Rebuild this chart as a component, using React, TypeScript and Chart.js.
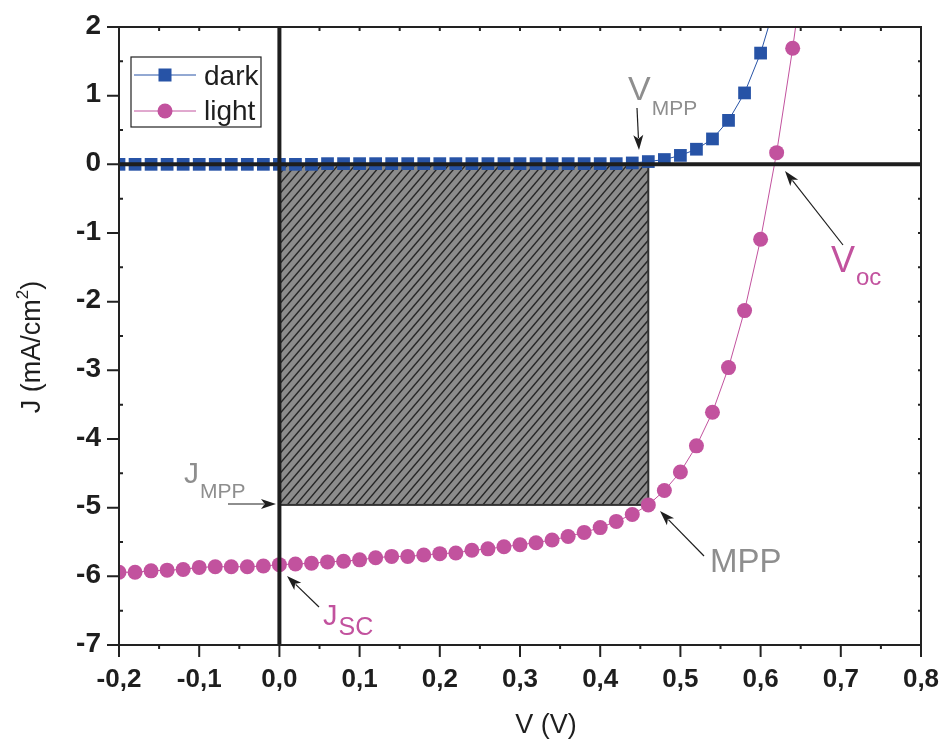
import React, { useEffect, useRef } from "react";
import { Chart, registerables } from "chart.js";

Chart.register(...registerables);

// ---------- data ----------
const darkV = [
  -0.2, -0.18, -0.16, -0.14, -0.12, -0.1, -0.08, -0.06, -0.04, -0.02,
  0.0, 0.02, 0.04, 0.06, 0.08, 0.1, 0.12, 0.14, 0.16, 0.18,
  0.2, 0.22, 0.24, 0.26, 0.28, 0.3, 0.32, 0.34, 0.36, 0.38,
  0.4, 0.42, 0.44, 0.46, 0.48, 0.5, 0.52, 0.54, 0.56, 0.58,
  0.6, 0.62,
];
const darkJ = [
  0.0, 0.0, 0.0, 0.0, 0.0, 0.0, 0.0, 0.0, 0.0, 0.0,
  0.0, 0.0, 0.0, 0.01, 0.01, 0.01, 0.01, 0.01, 0.01, 0.01,
  0.01, 0.01, 0.01, 0.01, 0.01, 0.01, 0.01, 0.01, 0.01, 0.01,
  0.01, 0.01, 0.02, 0.04, 0.07, 0.13, 0.22, 0.37, 0.64, 1.04,
  1.62, 2.4,
];
const lightV = [
  -0.2, -0.18, -0.16, -0.14, -0.12, -0.1, -0.08, -0.06, -0.04, -0.02,
  0.0, 0.02, 0.04, 0.06, 0.08, 0.1, 0.12, 0.14, 0.16, 0.18,
  0.2, 0.22, 0.24, 0.26, 0.28, 0.3, 0.32, 0.34, 0.36, 0.38,
  0.4, 0.42, 0.44, 0.46, 0.48, 0.5, 0.52, 0.54, 0.56, 0.58,
  0.6, 0.62, 0.64, 0.66,
];
const lightJ = [
  -5.94, -5.94, -5.92, -5.91, -5.9, -5.87, -5.86, -5.86, -5.86, -5.85,
  -5.83, -5.82, -5.81, -5.79, -5.78, -5.76, -5.73, -5.71, -5.71, -5.69,
  -5.67, -5.66, -5.62, -5.6, -5.57, -5.54, -5.51, -5.47, -5.42, -5.36,
  -5.29, -5.2, -5.1, -4.96, -4.75, -4.48, -4.1, -3.61, -2.96, -2.13,
  -1.09, 0.17, 1.69, 3.4,
];
const xTicks = [-0.2, -0.1, 0.0, 0.1, 0.2, 0.3, 0.4, 0.5, 0.6, 0.7, 0.8];
const xTickLabels = ["-0,2", "-0,1", "0,0", "0,1", "0,2", "0,3", "0,4", "0,5", "0,6", "0,7", "0,8"];
const yTicks = [2, 1, 0, -1, -2, -3, -4, -5, -6, -7];
const mppV = 0.46;
const mppJ = -4.96;

const BLUE = "#2753a6";
const MAGENTA = "#c2529e";
const GRAY = "#8e8e8e";
const INK = "#1e1e1e";

function arrow(ctx: CanvasRenderingContext2D, x1: number, y1: number, x2: number, y2: number) {
  const ang = Math.atan2(y2 - y1, x2 - x1);
  const hl = 15, hw = 5;
  ctx.save();
  ctx.strokeStyle = INK;
  ctx.fillStyle = INK;
  ctx.lineWidth = 1.2;
  ctx.beginPath();
  ctx.moveTo(x1, y1);
  ctx.lineTo(x2 - Math.cos(ang) * hl * 0.8, y2 - Math.sin(ang) * hl * 0.8);
  ctx.stroke();
  ctx.beginPath();
  ctx.moveTo(x2, y2);
  ctx.lineTo(x2 - Math.cos(ang) * hl + Math.sin(ang) * hw, y2 - Math.sin(ang) * hl - Math.cos(ang) * hw);
  ctx.lineTo(x2 - Math.cos(ang) * hl * 0.75, y2 - Math.sin(ang) * hl * 0.75);
  ctx.lineTo(x2 - Math.cos(ang) * hl - Math.sin(ang) * hw, y2 - Math.sin(ang) * hl + Math.cos(ang) * hw);
  ctx.closePath();
  ctx.fill();
  ctx.restore();
}

function subText(
  ctx: CanvasRenderingContext2D, main: string, sub: string, x: number, y: number,
  mainSize: number, subSize: number, subDy: number, color: string
) {
  ctx.save();
  ctx.fillStyle = color;
  ctx.textAlign = "left";
  ctx.textBaseline = "alphabetic";
  ctx.font = `${mainSize}px "Liberation Sans", Arial, sans-serif`;
  ctx.fillText(main, x, y);
  const w = ctx.measureText(main).width;
  ctx.font = `${subSize}px "Liberation Sans", Arial, sans-serif`;
  ctx.fillText(sub, x + w + 1, y + subDy);
  ctx.restore();
}

const decorPlugin = {
  id: "decor",
  beforeDatasetsDraw(chart: any) {
    const { ctx, scales } = chart;
    const xs = scales.x, ys = scales.y;
    const x0 = xs.getPixelForValue(0), x1 = xs.getPixelForValue(mppV);
    const y0 = ys.getPixelForValue(0), y1 = ys.getPixelForValue(mppJ);
    ctx.save();
    ctx.fillStyle = "#8c8c8c";
    ctx.fillRect(x0, y0, x1 - x0, y1 - y0);
    ctx.beginPath();
    ctx.rect(x0, y0, x1 - x0, y1 - y0);
    ctx.clip();
    ctx.strokeStyle = "#262626";
    ctx.lineWidth = 1.4;
    const h = y1 - y0;
    for (let k = -h; k < x1 - x0 + 10; k += 8.5) {
      ctx.beginPath();
      ctx.moveTo(x0 + k, y1);
      ctx.lineTo(x0 + k + h * 0.85, y0);
      ctx.stroke();
    }
    ctx.restore();
    ctx.save();
    ctx.strokeStyle = "#333";
    ctx.lineWidth = 2;
    ctx.strokeRect(x0, y0, x1 - x0, y1 - y0);
    ctx.restore();
  },
  afterDatasetsDraw(chart: any) {
    const { ctx, scales, chartArea: ca } = chart;
    const xs = scales.x, ys = scales.y;
    ctx.save();
    // zero lines
    ctx.strokeStyle = INK;
    ctx.lineWidth = 4;
    const yz = ys.getPixelForValue(0);
    const xz = xs.getPixelForValue(0);
    ctx.beginPath();
    ctx.moveTo(ca.left, yz);
    ctx.lineTo(ca.right, yz);
    ctx.stroke();
    ctx.beginPath();
    ctx.moveTo(xz, ca.top);
    ctx.lineTo(xz, ca.bottom);
    ctx.stroke();
    // frame
    ctx.lineWidth = 2;
    ctx.strokeStyle = "#222";
    ctx.strokeRect(ca.left, ca.top, ca.right - ca.left, ca.bottom - ca.top);
    // x ticks
    ctx.beginPath();
    for (let i = 0; i < xTicks.length; i++) {
      const px = xs.getPixelForValue(xTicks[i]);
      ctx.moveTo(px, ca.bottom);
      ctx.lineTo(px, ca.bottom + 12);
      ctx.moveTo(px, ca.top);
      ctx.lineTo(px, ca.top + 4);
      if (i < xTicks.length - 1) {
        const pm = xs.getPixelForValue((xTicks[i] + xTicks[i + 1]) / 2);
        ctx.moveTo(pm, ca.bottom);
        ctx.lineTo(pm, ca.bottom + 4);
        ctx.moveTo(pm, ca.top);
        ctx.lineTo(pm, ca.top + 4);
      }
    }
    // y ticks
    for (let i = 0; i < yTicks.length; i++) {
      const py = ys.getPixelForValue(yTicks[i]);
      ctx.moveTo(ca.left - 12, py);
      ctx.lineTo(ca.left, py);
      ctx.moveTo(ca.right - 3, py);
      ctx.lineTo(ca.right, py);
      if (i < yTicks.length - 1) {
        const pm = ys.getPixelForValue((yTicks[i] + yTicks[i + 1]) / 2);
        ctx.moveTo(ca.left, pm);
        ctx.lineTo(ca.left + 4, pm);
        ctx.moveTo(ca.right - 3, pm);
        ctx.lineTo(ca.right, pm);
      }
    }
    ctx.stroke();
    // tick labels
    ctx.fillStyle = INK;
    ctx.font = `bold 26px "Liberation Sans", Arial, sans-serif`;
    ctx.textAlign = "center";
    ctx.textBaseline = "alphabetic";
    for (let i = 0; i < xTicks.length; i++) {
      ctx.fillText(xTickLabels[i], xs.getPixelForValue(xTicks[i]), 687);
    }
    ctx.font = `bold 28px "Liberation Sans", Arial, sans-serif`;
    ctx.textAlign = "right";
    ctx.textBaseline = "middle";
    for (const v of yTicks) {
      ctx.fillText(String(v), 101, ys.getPixelForValue(v) - 1);
    }
    // axis titles
    ctx.font = `27px "Liberation Sans", Arial, sans-serif`;
    ctx.textAlign = "center";
    ctx.textBaseline = "alphabetic";
    ctx.fillText("V (V)", 546, 733);
    ctx.save();
    ctx.translate(40, 347);
    ctx.rotate(-Math.PI / 2);
    ctx.textAlign = "left";
    const t1 = "J (mA/cm";
    const w1 = ctx.measureText(t1).width;
    const w2 = (() => { ctx.font = `17px "Liberation Sans", Arial, sans-serif`; return ctx.measureText("2").width; })();
    ctx.font = `27px "Liberation Sans", Arial, sans-serif`;
    const w3 = ctx.measureText(")").width;
    const start = -(w1 + w2 + w3) / 2;
    ctx.fillText(t1, start, 0);
    ctx.font = `17px "Liberation Sans", Arial, sans-serif`;
    ctx.fillText("2", start + w1, -12);
    ctx.font = `27px "Liberation Sans", Arial, sans-serif`;
    ctx.fillText(")", start + w1 + w2, 0);
    ctx.restore();

    // legend
    ctx.lineWidth = 1.2;
    ctx.strokeStyle = "#222";
    ctx.strokeRect(131, 57, 130, 70);
    ctx.lineWidth = 1;
    ctx.strokeStyle = BLUE;
    ctx.beginPath();
    ctx.moveTo(134, 75); ctx.lineTo(196, 75);
    ctx.stroke();
    ctx.fillStyle = BLUE;
    ctx.fillRect(158.5, 68.5, 13, 13);
    ctx.strokeStyle = MAGENTA;
    ctx.beginPath();
    ctx.moveTo(134, 111); ctx.lineTo(196, 111);
    ctx.stroke();
    ctx.fillStyle = MAGENTA;
    ctx.beginPath();
    ctx.arc(165, 111, 7.5, 0, Math.PI * 2);
    ctx.fill();
    ctx.fillStyle = INK;
    ctx.font = `28px "Liberation Sans", Arial, sans-serif`;
    ctx.textAlign = "left";
    ctx.textBaseline = "alphabetic";
    ctx.fillText("dark", 204, 85);
    ctx.fillText("light", 204, 120);

    // annotations
    subText(ctx, "V", "MPP", 628, 100, 34, 21, 15, GRAY);
    arrow(ctx, 637, 108, 639, 150);
    subText(ctx, "V", "oc", 831, 272, 36, 24, 13, MAGENTA);
    arrow(ctx, 843, 245, 785, 171);
    ctx.fillStyle = GRAY;
    ctx.font = `33px "Liberation Sans", Arial, sans-serif`;
    ctx.fillText("MPP", 710, 572);
    arrow(ctx, 704, 556, 660, 511);
    subText(ctx, "J", "MPP", 184, 483, 30, 21, 15, GRAY);
    arrow(ctx, 228, 504, 276, 504);
    subText(ctx, "J", "SC", 323, 625, 29, 25, 10, MAGENTA);
    arrow(ctx, 319, 607, 287, 576);
    ctx.restore();
  },
};

export default function App() {
  const ref = useRef<HTMLCanvasElement | null>(null);
  useEffect(() => {
    if (!ref.current) return;
    const chart = new Chart(ref.current, {
      type: "scatter",
      data: {
        datasets: [
          {
            label: "dark",
            data: darkV.map((v, i) => ({ x: v, y: darkJ[i] })),
            showLine: true,
            borderColor: BLUE,
            borderWidth: 1,
            backgroundColor: BLUE,
            pointBackgroundColor: BLUE,
            pointBorderWidth: 0,
            pointStyle: "rect",
            pointRadius: 9,
          },
          {
            label: "light",
            data: lightV.map((v, i) => ({ x: v, y: lightJ[i] })),
            showLine: true,
            borderColor: MAGENTA,
            borderWidth: 1,
            backgroundColor: MAGENTA,
            pointBackgroundColor: MAGENTA,
            pointBorderWidth: 0,
            pointStyle: "circle",
            pointRadius: 7.5,
          },
        ],
      },
      options: {
        animation: false,
        responsive: false,
        devicePixelRatio: 1,
        layout: { padding: { left: 119, top: 27, right: 24, bottom: 95 } },
        plugins: { legend: { display: false }, tooltip: { enabled: false }, title: { display: false } },
        scales: {
          x: { type: "linear", min: -0.2, max: 0.8, display: false },
          y: { type: "linear", min: -7, max: 2, display: false },
        },
        events: [],
      },
      plugins: [decorPlugin],
    } as any);
    return () => chart.destroy();
  }, []);
  return (
    <div style={{ position: "absolute", left: 0, top: 0, width: 945, height: 740, background: "#fff" }}>
      <canvas ref={ref} width={945} height={740} style={{ display: "block" }} />
    </div>
  );
}
